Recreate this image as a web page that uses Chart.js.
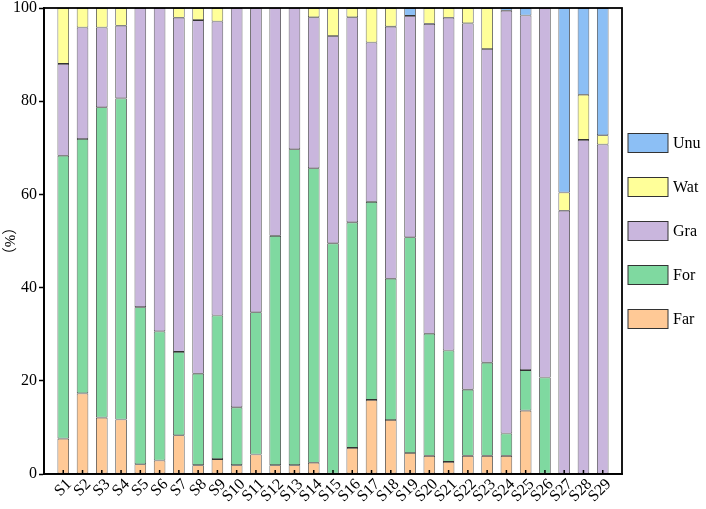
<!DOCTYPE html>
<html><head><meta charset="utf-8">
<script src="https://cdn.jsdelivr.net/npm/chart.js@4"></script>
<style>html,body{margin:0;padding:0;background:#fff}#wrap{width:706px;height:509px;position:relative}</style>
</head><body><div id="wrap"><canvas id="c" width="706" height="509"></canvas></div>
<script>
// ---- data (percent of each land-use class per site) ----
const categories = ['S1','S2','S3','S4','S5','S6','S7','S8','S9','S10','S11','S12','S13','S14','S15','S16','S17','S18','S19','S20','S21','S22','S23','S24','S25','S26','S27','S28','S29'];
const farValues = [7.6,17.3,12.1,11.7,2.1,2.9,8.3,1.9,3.2,1.9,4.2,1.9,1.9,2.4,0,5.6,15.9,11.6,4.5,3.9,2.6,3.9,3.9,3.9,13.6,0,0,0,0];
const forValues = [60.7,54.6,66.6,68.9,33.7,27.7,17.9,19.6,30.8,12.4,30.5,49.2,67.8,63.2,49.5,48.4,42.5,30.3,46.3,26.2,23.9,14.2,20.0,4.8,8.7,20.7,0,0,0];
const graValues = [19.7,23.9,17.1,15.6,64.2,69.4,71.7,75.9,63.1,85.7,65.3,48.9,30.3,32.4,44.5,44.0,34.2,54.1,47.5,66.5,71.4,78.6,67.3,90.7,76.1,79.3,56.5,71.7,70.7];
const watValues = [12.0,4.2,4.2,3.8,0,0,2.1,2.6,2.9,0,0,0,0,2.0,6.0,2.0,7.4,4.0,0,3.4,2.1,3.3,8.8,0,0,0,3.9,9.7,2.0];
const unuValues = [0,0,0,0,0,0,0,0,0,0,0,0,0,0,0,0,0,0,1.7,0,0,0,0,0.6,1.6,0,39.6,18.6,27.3];
const seriesNames = ['Far','For','Gra','Wat','Unu'];
const yTickValues = [0,20,40,60,80,100];
const yTitle = '（%）';

// ---- styles ----
const fillColors = ['#FFC996','#7FD9A0','#C9B6DD','#FFFF99','#8CBFF5'];
const edgeColor = '#333333';
const fontFamily = "'Liberation Serif','Times New Roman','Noto Sans CJK SC',serif";

const seriesValues = [farValues, forValues, graValues, watValues, unuValues];
const datasets = seriesNames.map((name, s) => ({
  label: name,
  data: seriesValues[s].map((v, i) => ({x: i + 1, y: v > 0 ? v : null})),
  backgroundColor: fillColors[s],
  borderColor: edgeColor,
  borderWidth: 0.8,
  borderSkipped: false,
  categoryPercentage: 1,
  barPercentage: 0.6
}));

const framePlugin = {
  id: 'frame',
  afterDatasetsDraw(chart) {
    const {ctx, chartArea: a, scales} = chart;
    ctx.save();
    ctx.strokeStyle = '#000';
    ctx.lineWidth = 1.5;
    categories.forEach((c, i) => {
      const x = scales.x.getPixelForValue(i + 1);
      ctx.beginPath();
      ctx.moveTo(x, a.bottom);
      ctx.lineTo(x, a.bottom - 4);
      ctx.stroke();
    });
    ctx.lineWidth = 1.8;
    ctx.strokeRect(a.left, a.top, a.right - a.left, a.bottom - a.top);
    ctx.restore();
  },
  afterDraw(chart) {
    const {ctx, chartArea: a} = chart;
    ctx.save();
    ctx.font = '16px ' + fontFamily;
    ctx.textBaseline = 'middle';
    const ds = chart.data.datasets.slice().reverse();
    const x0 = a.right + 6, top = 143, step = 44;
    ds.forEach((d, k) => {
      const cy = top + k * step;
      ctx.fillStyle = d.backgroundColor;
      ctx.fillRect(x0, cy - 9.5, 40, 19);
      ctx.strokeStyle = edgeColor;
      ctx.lineWidth = 1;
      ctx.strokeRect(x0, cy - 9.5, 40, 19);
      ctx.fillStyle = '#000';
      ctx.fillText(d.label, x0 + 45, cy + 1);
    });
    ctx.restore();
  }
};

new Chart(document.getElementById('c'), {
  type: 'bar',
  data: { datasets },
  plugins: [framePlugin],
  options: {
    responsive: false,
    animation: false,
    devicePixelRatio: 1,
    layout: { padding: { left: 0, top: 8, right: 84, bottom: 0 } },
    plugins: { legend: { display: false }, tooltip: { enabled: false } },
    scales: {
      x: {
        type: 'linear',
        stacked: true,
        offset: false,
        min: 0, max: categories.length + 1,
        grid: { display: false, drawTicks: false, tickLength: 0, offset: false },
        border: { display: true, color: '#000', width: 1.8 },
        afterBuildTicks(scale) {
          scale.ticks = categories.map((c, i) => ({ value: i + 1 }));
        },
        afterFit(scale) { scale.height = 35; scale.paddingLeft = 0; scale.paddingRight = 0; },
        ticks: {
          autoSkip: false,
          maxRotation: 45, minRotation: 45,
          padding: 1,
          labelOffset: 6,
          color: '#000',
          font: { family: fontFamily, size: 16 },
          callback: (v) => categories[v - 1] || ''
        }
      },
      y: {
        stacked: true,
        min: 0, max: 100,
        afterBuildTicks(scale) { scale.ticks = yTickValues.map(v => ({ value: v })); },
        afterFit(scale) { scale.width = 44; scale.paddingTop = 0; scale.paddingBottom = 0; },
        grid: { drawOnChartArea: false, tickLength: 5, tickColor: '#000', tickWidth: 1.5 },
        border: { display: true, color: '#000', width: 1.8 },
        ticks: { color: '#000', padding: 2, font: { family: fontFamily, size: 16 } },
        title: { display: true, text: yTitle, color: '#000', padding: 2, font: { family: fontFamily, size: 15 } }
      }
    }
  }
});
</script></body></html>
